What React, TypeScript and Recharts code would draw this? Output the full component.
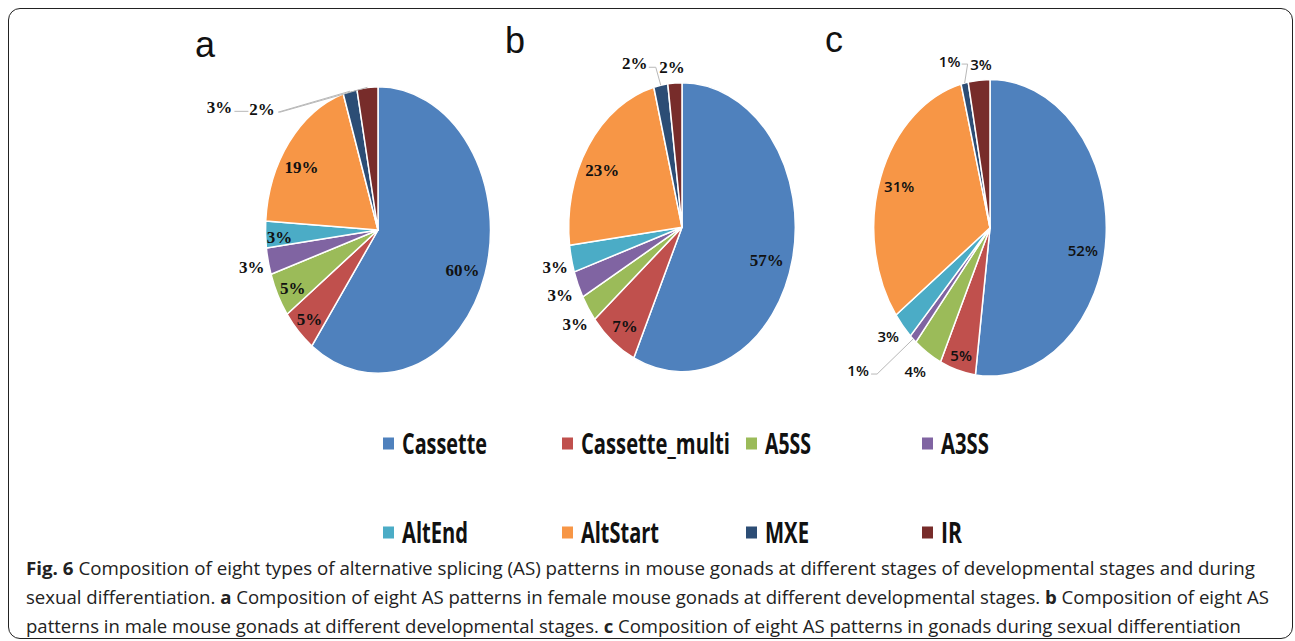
import React from 'react';
import { PieChart, Pie, Cell } from 'recharts';

// AS pattern types and colours (legend order = slice order, clockwise from 12 o'clock)
const types = ['Cassette', 'Cassette_multi', 'A5SS', 'A3SS', 'AltEnd', 'AltStart', 'MXE', 'IR'];
const colors = ['#4F81BD', '#C0504D', '#9BBB59', '#8064A2', '#4BACC6', '#F79646', '#2C4D75', '#772C2A'];

// percentages per panel
const femaleValues = [60, 5, 5, 3, 3, 19, 2, 3]; // a
const maleValues = [57, 7, 3, 3, 3, 23, 2, 2]; // b
const sexDiffValues = [52, 5, 4, 1, 3, 31, 1, 3]; // c

const panelLetters = ['a', 'b', 'c'];

const RAD = Math.PI / 180;

type LabelPos = { f: number; dx: number; dy: number; leader?: Array<Array<[number, number] | null>> };
type PieLayout = {
  values: number[];
  cx: number;
  cy: number;
  rx: number;
  ry: number;
  letterX: number;
  letterY: number;
  font: string;
  weight: number;
  size: number;
  labels: LabelPos[];
};

const pies: PieLayout[] = [
  {
    values: femaleValues,
    cx: 377.5, cy: 230, rx: 112.5, ry: 143.3,
    letterX: 195, letterY: 57,
    font: '"Liberation Serif", "Times New Roman", serif', weight: 700, size: 17,
    labels: [
      { f: 0.79, dx: 0, dy: 6 },
      { f: 0.86, dx: 0, dy: 2 },
      { f: 0.85, dx: 0, dy: 3 },
      { f: 1.15, dx: 0, dy: 2 },
      { f: 0.875, dx: 0, dy: 4 },
      { f: 0.86, dx: 0, dy: 13 },
      { f: 1, dx: -88, dy: 18, leader: [[[16, 3], null]] },
      { f: 1, dx: -148, dy: 20, leader: [[[15, 4], [29, 4]], [[60, 5], null]] },
    ],
  },
  {
    values: maleValues,
    cx: 681.7, cy: 227.2, rx: 113.3, ry: 144.5,
    letterX: 505, letterY: 53,
    font: '"Liberation Serif", "Times New Roman", serif', weight: 700, size: 17,
    labels: [
      { f: 0.767, dx: 0, dy: 9 },
      { f: 0.82, dx: 0, dy: 6 },
      { f: 1.14, dx: 0, dy: 5 },
      { f: 1.17, dx: 0, dy: 1 },
      { f: 1.146, dx: 0, dy: 4 },
      { f: 0.85, dx: 0, dy: 12 },
      { f: 1, dx: -26, dy: -22, leader: [[[14, 4], [21, 4], null]] },
      { f: 1, dx: -3, dy: -15 },
    ],
  },
  {
    values: sexDiffValues,
    cx: 989.5, cy: 227.8, rx: 116.3, ry: 148.3,
    letterX: 825, letterY: 52,
    font: '"Open Sans", "Noto Sans", sans-serif', weight: 600, size: 15,
    labels: [
      { f: 0.8, dx: 0, dy: 15 },
      { f: 0.89, dx: 0, dy: 0 },
      { f: 1.2, dx: 0, dy: -7 },
      { f: 1, dx: -55, dy: 31, leader: [[[13, 4], [19, 4], null]] },
      { f: 1.167, dx: 0, dy: -6 },
      { f: 0.83, dx: 0, dy: 0 },
      { f: 1, dx: -15, dy: -22, leader: [[[12, 3], [18, 3], null]] },
      { f: 1, dx: 2, dy: -16 },
    ],
  },
];

const legendCols = [383, 562, 746, 922];
const legendRows = [443.5, 532.5];
const legendWidths = [85, 149, 46, 48, 66, 78, 44, 21];
const LEGEND_SQUEEZE = 0.62; // legend font is a narrow (Calibri-like) bold

const CHART_W = 400;
const CHART_H = 400;

// elliptical sector (the reference pies are vertically stretched)
const ellipseSector = (rx: number, ry: number) => (props: any) => {
  const { cx, cy, startAngle, endAngle, fill } = props;
  const pt = (a: number) => [cx + rx * Math.cos(-a * RAD), cy + ry * Math.sin(-a * RAD)];
  const [x0, y0] = pt(startAngle);
  const [x1, y1] = pt(endAngle);
  const large = Math.abs(startAngle - endAngle) > 180 ? 1 : 0;
  const sweep = startAngle > endAngle ? 1 : 0;
  return (
    <path
      d={`M${cx},${cy}L${x0},${y0}A${rx},${ry} 0 ${large} ${sweep} ${x1},${y1}Z`}
      fill={fill}
      stroke="#fff"
      strokeWidth={1.5}
      strokeLinejoin="round"
    />
  );
};

const makeLabel = (p: PieLayout) => (props: any) => {
  const { cx, cy, midAngle, index, value } = props;
  const lay = p.labels[index];
  const a = -midAngle * RAD;
  const ex = cx + p.rx * Math.cos(a);
  const ey = cy + p.ry * Math.sin(a);
  const lx = cx + p.rx * lay.f * Math.cos(a) + lay.dx;
  const ly = cy + p.ry * lay.f * Math.sin(a) + lay.dy;
  return (
    <g key={`lbl-${index}`}>
      {lay.leader?.map((seg, i) => (
        <polyline
          key={i}
          points={seg.map((q) => (q ? `${lx + q[0]},${ly + q[1]}` : `${ex},${ey}`)).join(' ')}
          fill="none"
          stroke="#b8b8b8"
          strokeWidth={1}
        />
      ))}
      <text
        x={lx}
        y={ly}
        textAnchor="middle"
        dominantBaseline="central"
        fontFamily={p.font}
        fontWeight={p.weight}
        fontSize={p.size}
        fill="#111"
      >
        {value}%
      </text>
    </g>
  );
};

function PiePanel({ p }: { p: PieLayout }) {
  const data = types.map((name, i) => ({ name, value: p.values[i] }));
  const left = p.cx - CHART_W / 2;
  return (
    <div style={{ position: 'absolute', left, top: 0, width: CHART_W, height: CHART_H }}>
      <PieChart width={CHART_W} height={CHART_H} margin={{ top: 0, right: 0, bottom: 0, left: 0 }}>
        <Pie
          data={data}
          dataKey="value"
          nameKey="name"
          cx={CHART_W / 2}
          cy={p.cy}
          outerRadius={p.ry}
          startAngle={90}
          endAngle={-270}
          stroke="#fff"
          strokeWidth={1.5}
          shape={ellipseSector(p.rx, p.ry)}
          label={makeLabel(p)}
          labelLine={false}
          isAnimationActive={false}
        >
          {data.map((d, i) => (
            <Cell key={d.name} fill={colors[i]} />
          ))}
        </Pie>
      </PieChart>
    </div>
  );
}

const captionFont = '"Open Sans", "Noto Sans", sans-serif';

export default function App() {
  return (
    <div
      style={{
        position: 'fixed',
        left: 0,
        top: 0,
        width: 1295,
        height: 641,
        background: '#fff',
        overflow: 'hidden',
      }}
    >
      <div
        style={{
          position: 'absolute',
          left: 8,
          top: 8,
          width: 1285,
          height: 631,
          border: '1.5px solid #222',
          borderRadius: 12,
          boxSizing: 'border-box',
        }}
      />
      <svg width={1295} height={641} style={{ position: 'absolute', left: 0, top: 0 }}>
        {pies.map((p, i) => (
          <text
            key={panelLetters[i]}
            x={p.letterX}
            y={p.letterY}
            fontFamily='"Liberation Sans", Arial, sans-serif'
            fontSize={36}
            fill="#111"
          >
            {panelLetters[i]}
          </text>
        ))}
        {types.map((t, i) => {
          const col = legendCols[i % 4];
          const row = legendRows[Math.floor(i / 4)];
          return (
            <g key={t}>
              <rect x={col} y={row - 6} width={11} height={12} fill={colors[i]} />
              <text
                transform={`translate(${col + 19},${row + 10}) scale(${LEGEND_SQUEEZE},1)`}
                fontFamily={captionFont}
                fontWeight={700}
                fontSize={28}
                fill="#111"
                textLength={legendWidths[i] / LEGEND_SQUEEZE}
                lengthAdjust="spacingAndGlyphs"
              >
                {t}
              </text>
            </g>
          );
        })}
        <g fontFamily={captionFont} fontSize={18} fill="#222">
          <text x={26} y={575} textLength={1229} lengthAdjust="spacingAndGlyphs">
            <tspan fontWeight={700}>Fig. 6</tspan> Composition of eight types of alternative splicing (AS) patterns in
            mouse gonads at different stages of developmental stages and during
          </text>
          <text x={26} y={604} textLength={1243} lengthAdjust="spacingAndGlyphs">
            sexual differentiation. <tspan fontWeight={700}>a</tspan> Composition of eight AS patterns in female mouse
            gonads at different developmental stages. <tspan fontWeight={700}>b</tspan> Composition of eight AS
          </text>
          <text x={26} y={633} textLength={1215} lengthAdjust="spacingAndGlyphs">
            patterns in male mouse gonads at different developmental stages. <tspan fontWeight={700}>c</tspan>{' '}
            Composition of eight AS patterns in gonads during sexual differentiation
          </text>
        </g>
      </svg>
      {pies.map((p, i) => (
        <PiePanel key={i} p={p} />
      ))}
    </div>
  );
}
